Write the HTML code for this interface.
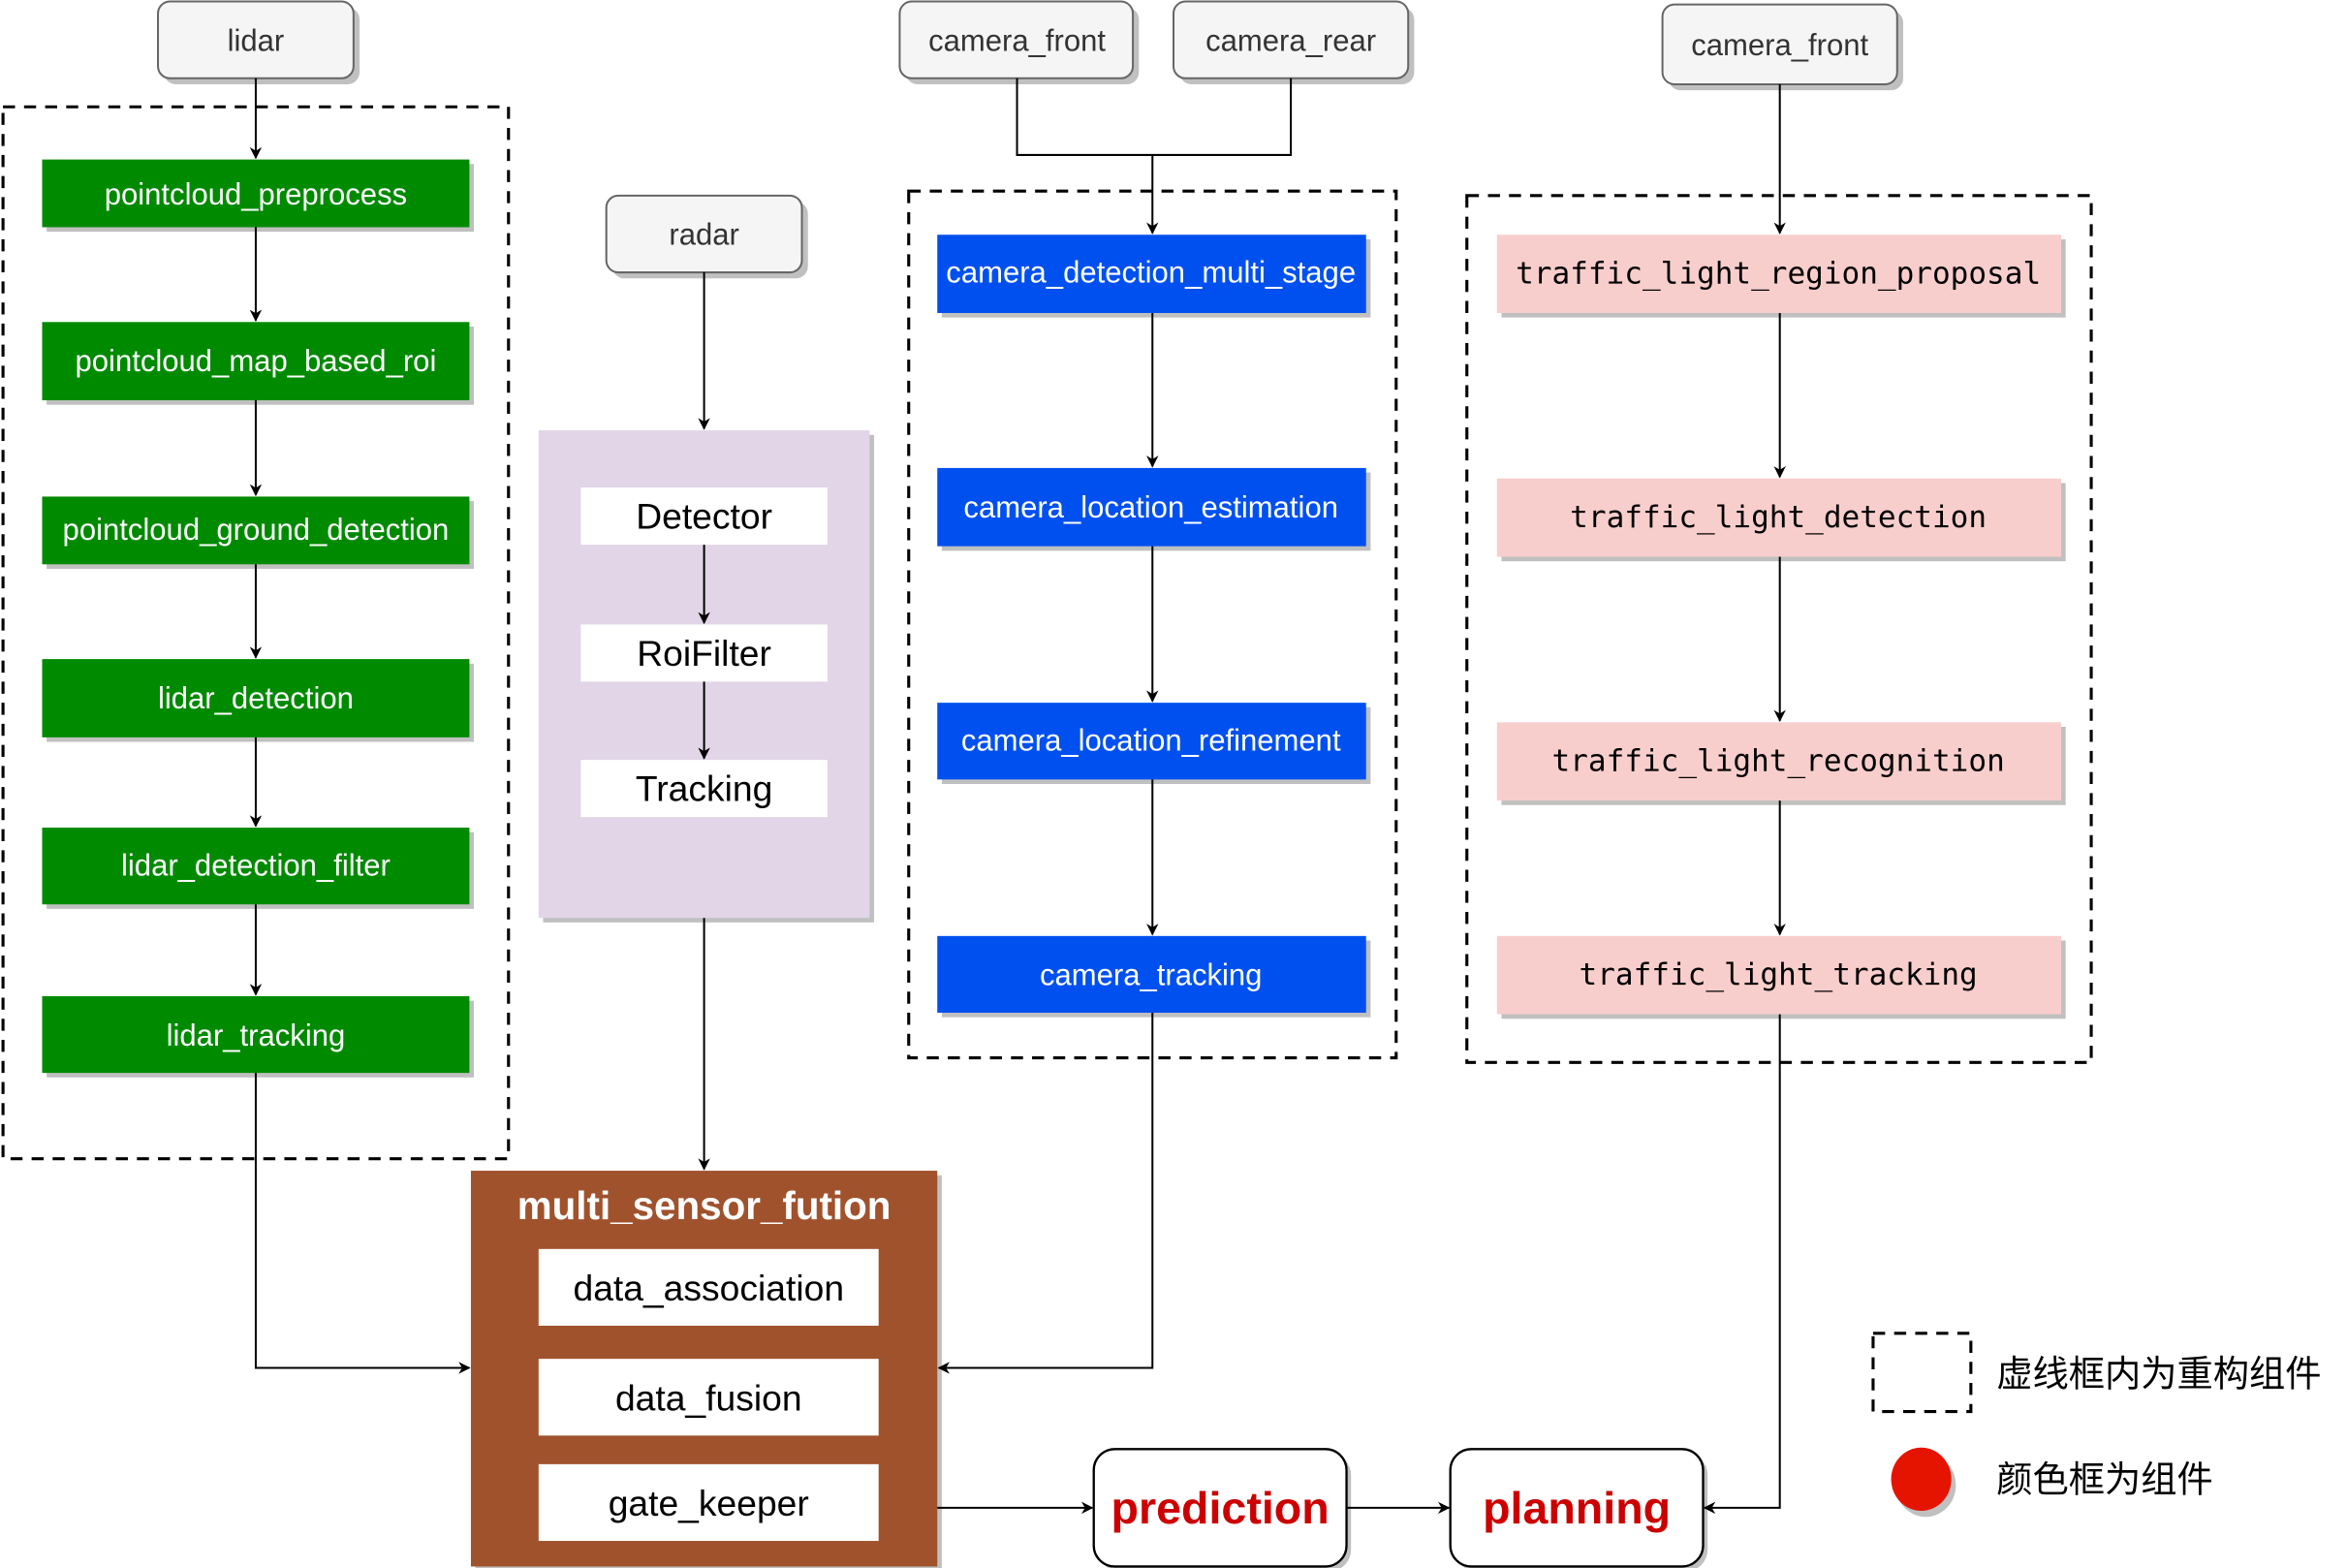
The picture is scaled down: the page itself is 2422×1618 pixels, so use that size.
<!DOCTYPE html>
<html><head><meta charset="utf-8"><style>
html,body{margin:0;padding:0;background:#fff;}
svg{display:block;}
</style></head><body>
<svg width="2422" height="1618" viewBox="0 0 1560 1042" preserveAspectRatio="none" xmlns="http://www.w3.org/2000/svg" font-family="'Liberation Sans','Noto Sans CJK SC',sans-serif">
<defs>
<marker id="a" viewBox="0 0 10 10" refX="9" refY="5" markerWidth="8" markerHeight="8" orient="auto" markerUnits="userSpaceOnUse">
<path d="M0,0 L10,5 L0,10 L3,5 Z" fill="#000"/></marker>
</defs>
<g fill="none" stroke="#000" stroke-width="1.3">
<!-- dashed groups -->
<rect x="2" y="71" width="336" height="699" stroke-width="2" stroke-dasharray="8,6"/>
<rect x="604" y="127" width="324" height="576" stroke-width="2" stroke-dasharray="8,6"/>
<rect x="975" y="130" width="415" height="576" stroke-width="2" stroke-dasharray="8,6"/>
<rect x="1245" y="886" width="65" height="52" stroke-width="2" stroke-dasharray="8,6"/>
</g>
<!-- shadows -->
<g fill="#c0c0c0">
<rect x="109" y="5" width="130" height="51" rx="8"/>
<rect x="407" y="134" width="130" height="51" rx="8"/>
<rect x="602" y="5" width="155" height="51" rx="8"/>
<rect x="784" y="5" width="156" height="51" rx="8"/>
<rect x="1109" y="7" width="156" height="53" rx="8"/>
<rect x="31" y="109" width="284" height="45"/>
<rect x="31" y="217" width="284" height="52"/>
<rect x="31" y="333" width="284" height="45"/>
<rect x="31" y="441" width="284" height="52"/>
<rect x="31" y="553" width="284" height="51"/>
<rect x="31" y="665" width="284" height="51"/>
<rect x="361" y="289" width="220" height="324"/>
<rect x="626" y="159" width="285" height="52"/>
<rect x="626" y="314" width="285" height="52"/>
<rect x="626" y="470" width="285" height="51"/>
<rect x="626" y="625" width="285" height="51"/>
<rect x="998" y="159" width="375" height="52"/>
<rect x="998" y="321" width="375" height="52"/>
<rect x="998" y="483" width="375" height="52"/>
<rect x="998" y="625" width="375" height="52"/>
<rect x="316" y="781" width="310" height="263"/>
<rect x="730" y="966" width="168" height="78" rx="14"/>
<rect x="967" y="966" width="168" height="78" rx="14"/>
<ellipse cx="1280" cy="987" rx="20" ry="21"/>
</g>
<!-- source boxes -->
<g fill="#f5f5f5" stroke="#666" stroke-width="1.3">
<rect x="105" y="1" width="130" height="51" rx="8"/>
<rect x="403" y="130" width="130" height="51" rx="8"/>
<rect x="598" y="1" width="155" height="51" rx="8"/>
<rect x="780" y="1" width="156" height="51" rx="8"/>
<rect x="1105" y="3" width="156" height="53" rx="8"/>
</g>
<g font-size="20" fill="#333" text-anchor="middle" dominant-baseline="central">
<text x="170" y="27">lidar</text>
<text x="468" y="156">radar</text>
<text x="676" y="27">camera_front</text>
<text x="858" y="27">camera_rear</text>
<text x="1183" y="30">camera_front</text>
</g>
<!-- green -->
<g fill="#008a00">
<rect x="28" y="106" width="284" height="45"/>
<rect x="28" y="214" width="284" height="52"/>
<rect x="28" y="330" width="284" height="45"/>
<rect x="28" y="438" width="284" height="52"/>
<rect x="28" y="550" width="284" height="51"/>
<rect x="28" y="662" width="284" height="51"/>
</g>
<g font-size="20" fill="#fff" text-anchor="middle" dominant-baseline="central">
<text x="170" y="129">pointcloud_preprocess</text>
<text x="170" y="240">pointcloud_map_based_roi</text>
<text x="170" y="352">pointcloud_ground_detection</text>
<text x="170" y="464">lidar_detection</text>
<text x="170" y="575">lidar_detection_filter</text>
<text x="170" y="688">lidar_tracking</text>
</g>
<!-- radar group -->
<rect x="358" y="286" width="220" height="324" fill="#e1d5e7"/>
<g fill="#fff"><rect x="386" y="324" width="164" height="38"/><rect x="386" y="415" width="164" height="38"/><rect x="386" y="505" width="164" height="38"/></g>
<g font-size="24" fill="#000" text-anchor="middle" dominant-baseline="central">
<text x="468" y="343">Detector</text><text x="468" y="434">RoiFilter</text><text x="468" y="524">Tracking</text>
</g>
<!-- blue -->
<g fill="#0050ef">
<rect x="623" y="156" width="285" height="52"/>
<rect x="623" y="311" width="285" height="52"/>
<rect x="623" y="467" width="285" height="51"/>
<rect x="623" y="622" width="285" height="51"/>
</g>
<g font-size="20" fill="#fff" text-anchor="middle" dominant-baseline="central">
<text x="765" y="181">camera_detection_multi_stage</text>
<text x="765" y="337">camera_location_estimation</text>
<text x="765" y="492">camera_location_refinement</text>
<text x="765" y="648">camera_tracking</text>
</g>
<!-- pink -->
<g fill="#f8cecc">
<rect x="995" y="156" width="375" height="52"/>
<rect x="995" y="318" width="375" height="52"/>
<rect x="995" y="480" width="375" height="52"/>
<rect x="995" y="622" width="375" height="52"/>
</g>
<g font-size="20" fill="#000" text-anchor="middle" dominant-baseline="central" font-family="'DejaVu Sans Mono','Liberation Mono',monospace">
<text x="1182" y="182">traffic_light_region_proposal</text>
<text x="1182" y="344">traffic_light_detection</text>
<text x="1182" y="506">traffic_light_recognition</text>
<text x="1182" y="648">traffic_light_tracking</text>
</g>
<!-- fusion -->
<rect x="313" y="778" width="310" height="263" fill="#a0522d"/>
<text x="468" y="801" font-size="26" font-weight="bold" fill="#fff" text-anchor="middle" dominant-baseline="central">multi_sensor_fution</text>
<g fill="#fff"><rect x="358" y="830" width="226" height="51"/><rect x="358" y="903" width="226" height="51"/><rect x="358" y="973" width="226" height="51"/></g>
<g font-size="24" fill="#000" text-anchor="middle" dominant-baseline="central">
<text x="471" y="856">data_association</text><text x="471" y="929">data_fusion</text><text x="471" y="999">gate_keeper</text>
</g>
<!-- prediction/planning -->
<g fill="#fff" stroke="#000" stroke-width="1.5">
<rect x="727" y="963" width="168" height="78" rx="14"/>
<rect x="964" y="963" width="168" height="78" rx="14"/>
</g>
<g font-size="30" font-weight="bold" fill="#cc0000" text-anchor="middle" dominant-baseline="central">
<text x="811" y="1002">prediction</text><text x="1048" y="1002">planning</text>
</g>
<!-- legend -->
<ellipse cx="1277" cy="983" rx="20" ry="21" fill="#e51400"/>
<g font-size="24" fill="#000" dominant-baseline="central">
<text x="1327" y="913">虚线框内为重构组件</text>
<text x="1327" y="983">颜色框为组件</text>
</g>
<!-- connectors -->
<g fill="none" stroke="#000" stroke-width="1.3" marker-end="url(#a)">
<path d="M170,52 V105"/>
<path d="M170,151 V213"/>
<path d="M170,266 V329"/>
<path d="M170,375 V437"/>
<path d="M170,490 V549"/>
<path d="M170,601 V661"/>
<path d="M170,713 V909 H312"/>
<path d="M468,181 V285"/>
<path d="M468,362 V414"/>
<path d="M468,453 V504"/>
<path d="M468,610 V777"/>
<path d="M766,103 V155"/>
<path d="M766,208 V310"/>
<path d="M766,363 V466"/>
<path d="M766,518 V621"/>
<path d="M766,673 V909 H624"/>
<path d="M1183,56 V155"/>
<path d="M1183,208 V317"/>
<path d="M1183,370 V479"/>
<path d="M1183,532 V621"/>
<path d="M1183,674 V1002 H1133"/>
<path d="M623,1002 H726"/>
<path d="M895,1002 H963"/>
</g>
<path d="M676,52 V103 H858 V52" fill="none" stroke="#000" stroke-width="1.3"/>
</svg>
</body></html>
